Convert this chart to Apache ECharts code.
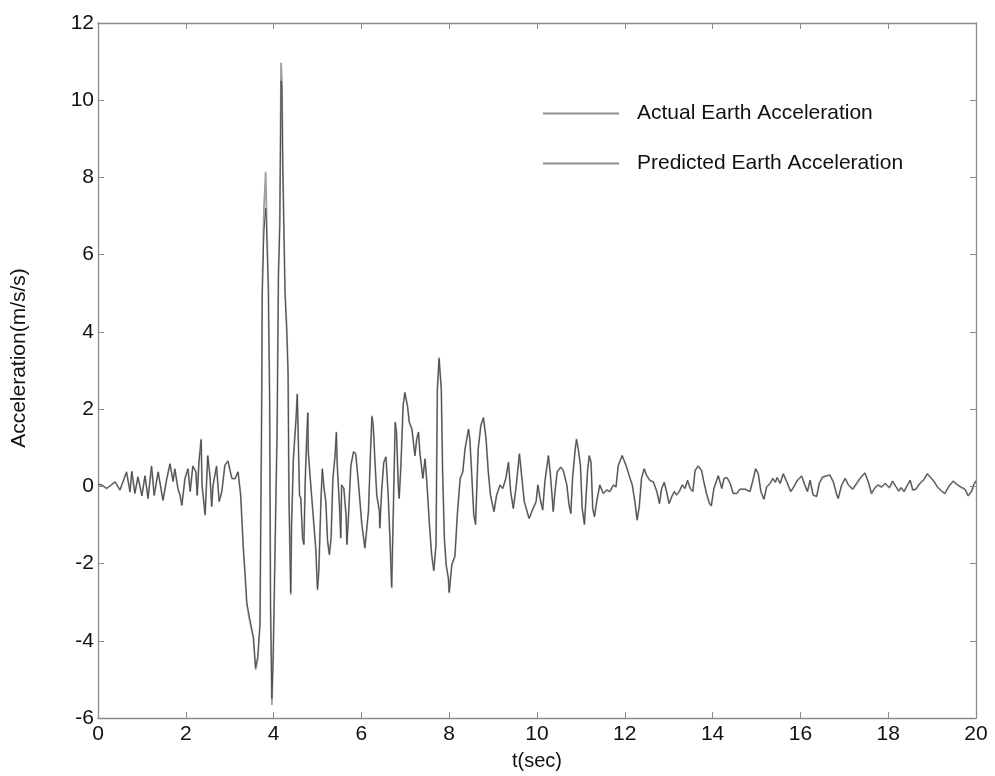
<!DOCTYPE html>
<html>
<head>
<meta charset="utf-8">
<script src="https://cdn.jsdelivr.net/npm/echarts@6/dist/echarts.min.js"></script>
<style>html,body{margin:0;padding:0;background:#fff}#chart{width:995px;height:776px}</style>
</head>
<body>
<div id="chart"></div>
<script>
const xTicks = [0, 2, 4, 6, 8, 10, 12, 14, 16, 18, 20];
const yTicks = [-6, -4, -2, 0, 2, 4, 6, 8, 10, 12];
const seriesNames = ['Actual Earth Acceleration', 'Predicted Earth Acceleration'];

const time = [0.00,0.10,0.20,0.39,0.50,0.65,0.73,0.77,0.84,0.91,1.00,1.07,1.14,1.22,1.28,1.37,1.48,1.56,1.64,1.71,1.75,1.82,1.87,1.91,1.98,2.05,2.10,2.16,2.23,2.26,2.30,2.35,2.37,2.44,2.50,2.55,2.59,2.62,2.70,2.76,2.82,2.89,2.96,3.05,3.12,3.19,3.25,3.31,3.35,3.39,3.46,3.54,3.59,3.64,3.69,3.71,3.73,3.74,3.78,3.82,3.85,3.88,3.91,3.93,3.96,3.99,4.03,4.08,4.11,4.14,4.17,4.19,4.21,4.23,4.26,4.30,4.33,4.35,4.39,4.41,4.45,4.51,4.54,4.59,4.62,4.66,4.69,4.72,4.75,4.78,4.79,4.83,4.90,4.96,5.00,5.03,5.08,5.11,5.15,5.19,5.23,5.27,5.31,5.35,5.40,5.43,5.45,5.50,5.53,5.55,5.60,5.65,5.67,5.70,5.76,5.82,5.87,5.93,6.01,6.08,6.16,6.21,6.24,6.27,6.31,6.35,6.41,6.42,6.46,6.51,6.56,6.61,6.65,6.69,6.73,6.77,6.80,6.84,6.86,6.90,6.95,6.99,7.05,7.09,7.15,7.22,7.26,7.30,7.33,7.40,7.45,7.49,7.55,7.60,7.65,7.70,7.73,7.77,7.82,7.85,7.89,7.93,7.98,8.00,8.06,8.13,8.19,8.25,8.31,8.36,8.44,8.47,8.51,8.56,8.60,8.66,8.72,8.78,8.84,8.89,8.94,9.02,9.08,9.16,9.22,9.29,9.35,9.40,9.46,9.52,9.60,9.65,9.71,9.82,9.91,9.98,10.02,10.07,10.13,10.18,10.26,10.30,10.35,10.37,10.41,10.46,10.54,10.60,10.68,10.73,10.77,10.81,10.87,10.90,10.95,10.99,11.03,11.08,11.12,11.15,11.19,11.23,11.27,11.31,11.36,11.43,11.51,11.59,11.66,11.74,11.80,11.85,11.94,12.03,12.10,12.17,12.23,12.28,12.33,12.38,12.44,12.50,12.57,12.65,12.73,12.79,12.84,12.90,12.95,13.01,13.07,13.13,13.18,13.24,13.31,13.37,13.43,13.49,13.55,13.60,13.67,13.75,13.80,13.87,13.93,13.97,14.03,14.13,14.21,14.26,14.33,14.40,14.47,14.55,14.62,14.74,14.85,14.91,14.98,15.04,15.10,15.17,15.23,15.31,15.37,15.43,15.47,15.54,15.61,15.69,15.78,15.85,15.93,16.03,16.10,16.16,16.22,16.29,16.37,16.43,16.50,16.58,16.67,16.75,16.83,16.86,16.94,17.02,17.09,17.19,17.28,17.37,17.47,17.55,17.62,17.70,17.77,17.85,17.93,18.03,18.10,18.18,18.24,18.29,18.36,18.44,18.50,18.56,18.63,18.72,18.82,18.89,18.97,19.04,19.12,19.22,19.29,19.39,19.48,19.57,19.65,19.75,19.82,19.90,19.95,20.00];

const actual = [0.07,0.02,-0.06,0.12,-0.10,0.38,-0.14,0.38,-0.19,0.25,-0.24,0.28,-0.32,0.53,-0.24,0.38,-0.37,0.15,0.59,0.12,0.46,-0.06,-0.24,-0.50,0.20,0.46,-0.14,0.53,0.38,-0.24,0.64,1.23,0.02,-0.75,0.80,0.28,-0.53,0.02,0.53,-0.40,-0.14,0.55,0.66,0.20,0.20,0.38,-0.23,-1.61,-2.30,-3.07,-3.50,-3.93,-4.75,-4.45,-3.59,-0.58,2.27,5.00,7.20,8.15,6.50,5.20,2.27,-3.00,-5.66,-4.50,-1.87,1.50,5.50,6.80,10.97,10.50,8.30,7.00,5.10,4.07,2.96,-0.32,-2.81,-1.00,0.71,1.75,2.40,-0.23,-0.32,-1.35,-1.52,0.12,1.15,1.92,0.90,0.28,-0.75,-1.61,-2.69,-2.20,-0.32,0.46,-0.06,-0.40,-1.43,-1.78,-1.35,0.20,0.80,1.41,0.54,-0.49,-1.35,0.03,-0.06,-0.75,-1.52,-0.91,0.54,0.90,0.85,0.12,-1.00,-1.61,-0.66,0.97,1.83,1.58,0.63,-0.23,-0.66,-1.09,-0.14,0.63,0.77,-0.23,-1.35,-2.64,-0.49,1.67,1.41,0.03,-0.32,0.54,2.09,2.44,2.09,1.67,1.49,0.80,1.23,1.41,0.90,0.20,0.72,0.12,-1.00,-1.78,-2.20,-1.52,2.52,3.34,2.52,0.38,-1.35,-2.04,-2.38,-2.77,-2.04,-1.82,-0.66,0.20,0.38,0.97,1.49,1.23,0.38,-0.75,-1.00,0.97,1.58,1.79,1.23,0.38,-0.23,-0.66,-0.23,0.03,-0.06,0.20,0.63,-0.14,-0.58,-0.06,0.85,0.28,-0.40,-0.84,-0.58,-0.40,0.03,-0.32,-0.62,0.12,0.80,0.38,-0.36,-0.66,-0.14,0.38,0.50,0.41,0.03,-0.49,-0.71,0.20,0.97,1.23,0.89,0.54,-0.58,-1.00,-0.23,0.38,0.80,0.63,-0.58,-0.79,-0.40,0.03,-0.19,-0.10,-0.14,0.03,-0.02,0.54,0.80,0.54,0.28,0.03,-0.40,-0.88,-0.53,0.20,0.46,0.28,0.15,0.11,-0.14,-0.45,-0.06,0.10,-0.14,-0.45,-0.27,-0.14,-0.23,-0.14,0.03,-0.06,0.15,-0.06,-0.14,0.41,0.53,0.41,0.11,-0.23,-0.45,-0.51,-0.06,0.28,-0.06,0.20,0.22,0.07,-0.19,-0.19,-0.08,-0.08,-0.14,0.11,0.46,0.33,-0.14,-0.34,-0.02,0.07,0.20,0.10,0.22,0.07,0.33,0.11,-0.14,-0.02,0.15,0.27,0.03,-0.14,0.15,-0.23,-0.27,0.07,0.24,0.27,0.30,0.11,-0.23,-0.32,0.03,0.20,0.04,-0.08,0.07,0.22,0.35,0.10,-0.19,-0.04,0.03,-0.02,0.07,-0.04,0.13,-0.02,-0.13,-0.04,-0.14,0.03,0.15,-0.10,-0.08,0.07,0.18,0.33,0.22,0.13,-0.02,-0.13,-0.19,0.01,0.13,0.04,-0.02,-0.08,-0.25,-0.13,0.04,0.15];

const predicted = [0.05,0.03,-0.05,0.11,-0.09,0.36,-0.15,0.39,-0.18,0.24,-0.25,0.27,-0.31,0.52,-0.23,0.37,-0.36,0.16,0.58,0.13,0.45,-0.05,-0.23,-0.49,0.19,0.45,-0.13,0.52,0.37,-0.23,0.63,1.20,0.03,-0.73,0.79,0.27,-0.52,0.03,0.52,-0.39,-0.13,0.54,0.65,0.21,0.19,0.37,-0.22,-1.60,-2.25,-3.00,-3.45,-3.90,-4.70,-4.40,-3.55,-0.55,2.25,4.90,6.60,7.20,6.30,5.10,2.20,-3.10,-5.50,-4.45,-1.85,1.45,5.40,6.70,10.50,10.30,8.20,6.90,5.00,4.00,2.90,-0.30,-2.75,-0.98,0.70,1.73,2.38,-0.22,-0.30,-1.33,-1.50,0.13,1.13,1.90,0.89,0.27,-0.73,-1.59,-2.66,-2.18,-0.31,0.45,-0.05,-0.39,-1.41,-1.76,-1.33,0.19,0.79,1.39,0.53,-0.48,-1.33,0.04,-0.05,-0.73,-1.50,-0.90,0.53,0.89,0.84,0.13,-0.98,-1.59,-0.65,0.95,1.80,1.56,0.62,-0.22,-0.65,-1.07,-0.13,0.62,0.76,-0.22,-1.33,-2.60,-0.48,1.65,1.40,0.04,-0.31,0.53,2.07,2.42,2.07,1.66,1.48,0.79,1.22,1.40,0.89,0.21,0.71,0.13,-0.98,-1.76,-2.17,-1.50,2.49,3.30,2.50,0.37,-1.33,-2.02,-2.36,-2.74,-2.02,-1.80,-0.65,0.21,0.37,0.95,1.48,1.22,0.37,-0.73,-0.98,0.95,1.56,1.77,1.22,0.37,-0.22,-0.65,-0.22,0.04,-0.05,0.21,0.62,-0.13,-0.57,-0.05,0.84,0.27,-0.39,-0.83,-0.57,-0.39,0.04,-0.31,-0.61,0.13,0.79,0.37,-0.35,-0.65,-0.13,0.37,0.49,0.40,0.04,-0.48,-0.70,0.21,0.95,1.21,0.88,0.53,-0.57,-0.98,-0.22,0.37,0.79,0.62,-0.57,-0.78,-0.39,0.04,-0.18,-0.09,-0.13,0.04,-0.01,0.53,0.79,0.53,0.27,0.04,-0.39,-0.86,-0.52,0.21,0.45,0.27,0.16,0.12,-0.13,-0.44,-0.05,0.11,-0.13,-0.44,-0.26,-0.13,-0.22,-0.13,0.04,-0.05,0.16,-0.05,-0.13,0.40,0.52,0.40,0.12,-0.22,-0.44,-0.50,-0.05,0.27,-0.05,0.21,0.23,0.08,-0.18,-0.18,-0.07,-0.07,-0.13,0.12,0.45,0.32,-0.13,-0.33,-0.01,0.08,0.21,0.11,0.23,0.08,0.32,0.12,-0.13,-0.01,0.16,0.26,0.04,-0.13,0.16,-0.22,-0.26,0.08,0.23,0.26,0.29,0.12,-0.22,-0.31,0.04,0.21,0.05,-0.07,0.08,0.23,0.34,0.11,-0.18,-0.03,0.04,-0.01,0.08,-0.03,0.14,-0.01,-0.12,-0.03,-0.13,0.04,0.16,-0.09,-0.07,0.08,0.19,0.32,0.23,0.14,-0.01,-0.12,-0.18,0.02,0.14,0.05,-0.01,-0.07,-0.24,-0.12,0.05,0.14];

const chart = echarts.init(document.getElementById('chart'), null, {renderer: 'canvas'});
const toPairs = vals => time.map((t, i) => [t, vals[i]]);
const font = 'Liberation Sans, Arial, sans-serif';
const axisLine = {show: true, onZero: false, lineStyle: {color: '#8a8a8a', width: 1.3}};
const axisTick = {show: true, inside: true, length: 6, lineStyle: {color: '#8a8a8a', width: 1}};

chart.setOption({
  animation: false,
  backgroundColor: '#ffffff',
  grid: {left: 98, right: 19, top: 23, bottom: 55, containLabel: false},
  legend: {
    data: seriesNames,
    orient: 'vertical',
    left: 543,
    top: 103,
    padding: 0,
    itemWidth: 76,
    itemHeight: 2,
    itemGap: 29,
    icon: 'rect',
    textStyle: {fontFamily: font, fontSize: 21, color: '#111', padding: [0, 0, 0, 13]},
    itemStyle: {color: '#8e8e8e'}
  },
  xAxis: [{
    type: 'value', min: xTicks[0], max: xTicks[xTicks.length - 1], interval: 2,
    position: 'bottom',
    name: 't(sec)', nameLocation: 'middle', nameGap: 33,
    nameTextStyle: {fontFamily: font, fontSize: 20, color: '#111'},
    axisLine, axisTick,
    axisLabel: {fontFamily: font, fontSize: 21, color: '#111', margin: 6},
    splitLine: {show: false}
  }, {
    type: 'value', min: xTicks[0], max: xTicks[xTicks.length - 1], interval: 2,
    position: 'top', axisLine, axisTick, axisLabel: {show: false}, splitLine: {show: false}
  }],
  yAxis: [{
    type: 'value', min: yTicks[0], max: yTicks[yTicks.length - 1], interval: 2,
    position: 'left',
    name: 'Acceleration(m/s/s)', nameLocation: 'middle', nameGap: 68,
    nameTextStyle: {fontFamily: font, fontSize: 21, color: '#111', padding: [0, 0, 0, 25]},
    axisLine, axisTick,
    axisLabel: {fontFamily: font, fontSize: 21, color: '#111', margin: 4},
    splitLine: {show: false}
  }, {
    type: 'value', min: yTicks[0], max: yTicks[yTicks.length - 1], interval: 2,
    position: 'right', axisLine, axisTick, axisLabel: {show: false}, splitLine: {show: false}
  }],
  series: [{
    name: seriesNames[0], type: 'line', data: toPairs(actual),
    showSymbol: false, symbol: 'none', z: 2,
    lineStyle: {color: '#a0a0a0', width: 1.8},
    itemStyle: {color: '#a0a0a0'}
  }, {
    name: seriesNames[1], type: 'line', data: toPairs(predicted),
    showSymbol: false, symbol: 'none', z: 3,
    lineStyle: {color: '#444444', width: 0.9},
    itemStyle: {color: '#444444'}
  }]
});
</script>
</body>
</html>
